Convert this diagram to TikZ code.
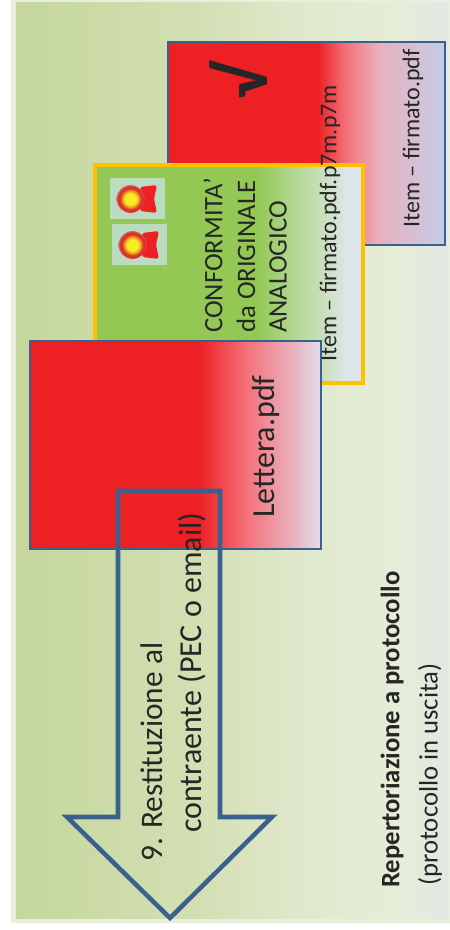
\documentclass[tikz,border=0pt]{standalone}
\usepackage{fontspec}
\setmainfont{Carlito}
\usepackage{tikz}
\usetikzlibrary{positioning}

\definecolor{boxblue}{HTML}{3A6090}
\definecolor{boxyellow}{HTML}{FFC000}
\definecolor{sealred}{HTML}{ED2024}
\definecolor{inktext}{HTML}{262626}

\definecolor{bgA}{HTML}{C5D79C}
\definecolor{bgB}{HTML}{D3DFB3}
\definecolor{bgC}{HTML}{DFE8CB}
\definecolor{bgD}{HTML}{E6EDD8}
\definecolor{bgE}{HTML}{E2E8E4}
\pgfdeclarehorizontalshading{bgshade}{100bp}{color(0bp)=(bgA); color(25bp)=(bgA); color(46bp)=(bgB); color(57bp)=(bgC); color(69bp)=(bgD); color(75bp)=(bgE); color(100bp)=(bgE)}

\definecolor{fadeA}{HTML}{F47078}
\definecolor{fadeB}{HTML}{E8B0BC}
\definecolor{fadeC}{HTML}{E2DDEC}
\definecolor{fadeD}{HTML}{C5CDE8}
\definecolor{greenA}{HTML}{92C853}
\definecolor{greenB}{HTML}{B0D890}
\definecolor{greenC}{HTML}{C8DFB8}
\definecolor{greenD}{HTML}{DCE6EA}
\pgfdeclarehorizontalshading{letterfade}{100bp}{color(0bp)=(sealred); color(54bp)=(sealred); color(62bp)=(fadeA); color(70bp)=(fadeB); color(75bp)=(fadeC); color(100bp)=(fadeC)}
\pgfdeclarehorizontalshading{itemfade}{100bp}{color(0bp)=(sealred); color(52bp)=(sealred); color(57bp)=(fadeA); color(63bp)=(fadeB); color(75bp)=(fadeD); color(100bp)=(fadeD)}
\pgfdeclarehorizontalshading{greenfade}{100bp}{color(0bp)=(greenA); color(55bp)=(greenA); color(62bp)=(greenB); color(67bp)=(greenC); color(72bp)=(greenD); color(100bp)=(greenD)}
\definecolor{sealbg}{HTML}{BCDCC0}
\definecolor{sealY}{HTML}{F6EE20}
\definecolor{sealO}{HTML}{F09020}
\definecolor{sealR}{HTML}{D83030}
\colorlet{sealE}{sealR!55!sealbg}
\pgfdeclareradialshading{sealshade}{\pgfpointorigin}{color(0bp)=(sealY); color(10bp)=(sealY); color(15bp)=(sealO); color(19bp)=(sealR); color(23bp)=(sealR); color(25bp)=(sealE); color(50bp)=(sealE)}

\tikzset{
  itembox/.style={draw=boxblue,line width=2.2pt},
  label/.style={rotate=90,inner sep=0pt,text=inktext,anchor=west,font=\fontsize{#1}{#1}\selectfont},
}

\begin{document}
\begin{tikzpicture}[x=0.75pt,y=-0.75pt]
  \useasboundingbox (0,0) rectangle (449,930);

  %background
  \fill[white] (0,0) rectangle (449,930);
  \fill[rounded corners=1pt,color=bgD!90!white] (11,-2) rectangle (452,923);
  \shade[shading=bgshade] (16,3) rectangle (449,918);

  %item box
  \draw[itembox,shading=itemfade] (168,42) rectangle (445,245);
  \node[label=54,font=\fontsize{54}{54}\selectfont\bfseries] (tick) at (239,100) {√};
  \node[label=18] (itemA) at (413,228) {Item – firmato.pdf};

  %yellow box
  \draw[draw=boxyellow,line width=2.4pt,shading=greenfade] (95,165) rectangle (363,383);
  \foreach \x/\y/\name in {110/178/sealA,112/224/sealB}{
    \fill[sealbg] (\x,\y) rectangle ++(55,41);
    \fill[sealred,rounded corners=2pt] (\x+30,\y+9) -- (\x+47,\y+7) -- (\x+44,\y+21) -- (\x+47,\y+35) -- (\x+30,\y+33) -- cycle;
    \shade[shading=sealshade] (\x+20.5,\y+21) circle[radius=14];
  }
  \node[label=18] (itemB) at (330,362) {Item – firmato.pdf.p7m.p7m};
  \node[label=20] (confA) at (213,333) {CONFORMITA’};
  \node[label=20] (confB) at (246,333) {da ORIGINALE};
  \node[label=20] (confC) at (278,333) {ANALOGICO};

  %letter box
  \draw[itembox,shading=letterfade] (30,341) rectangle (321,549);
  \node[label=24] (letter) at (266,518) {Lettera.pdf};

  %arrow
  \draw[boxblue,line width=3.4pt,miter limit=4] (118,491) -- (220,491) -- (220,817) -- (272,817) -- (170,918) -- (67,817) -- (118,817) -- cycle;
  \node[label=23.5] (backA) at (152,862) {9. Restituzione al};
  \node[label=24] (backB) at (192,833) {contraente (PEC o email)};

  %captions
  \node[label=20,font=\fontsize{20}{20}\selectfont\bfseries] (repA) at (392,888) {Repertoriazione a protocollo};
  \node[label=20] (repB) at (430,886) {(protocollo in uscita)};
\end{tikzpicture}
\end{document}
